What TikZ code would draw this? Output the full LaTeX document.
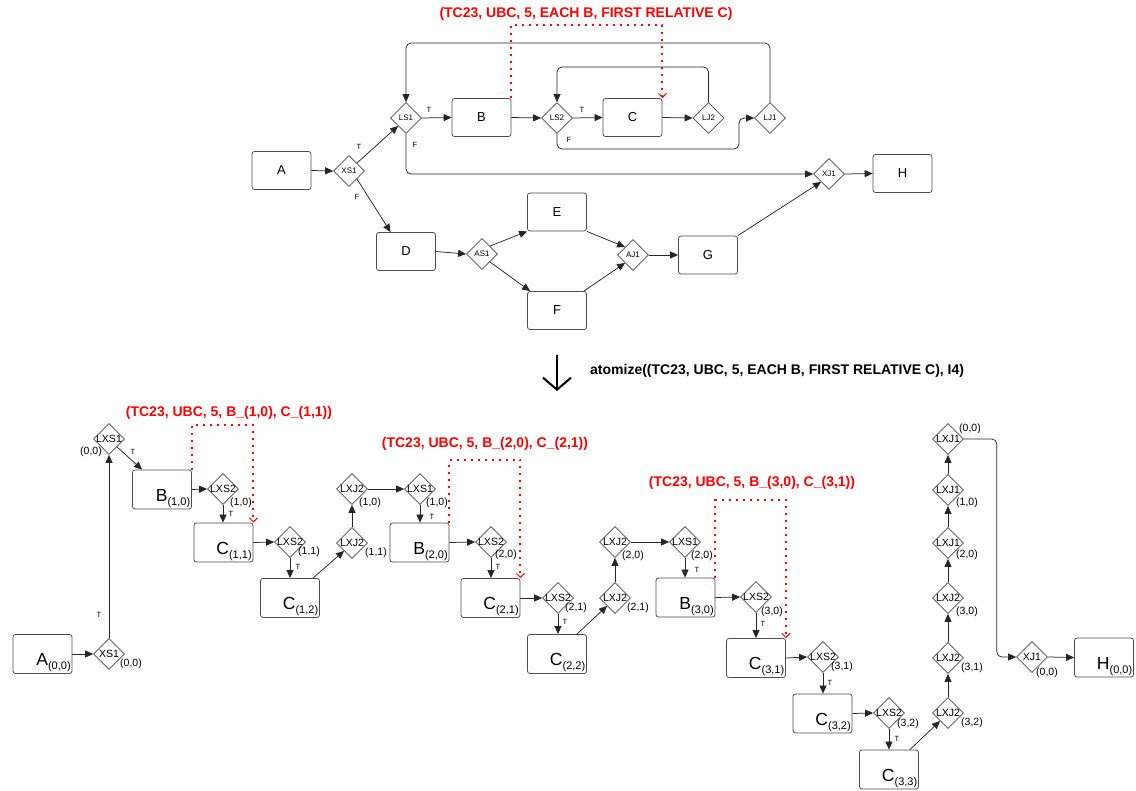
\documentclass[tikz,border=0pt]{standalone}
\usepackage{fontspec}
\setmainfont{Liberation Sans}
\usetikzlibrary{shapes.geometric,arrows.meta,calc}
\newcommand{\fsz}[1]{\fontsize{#1}{#1}\selectfont}
\newcommand{\bsub}[2]{{\fsz{17.5}#1}{\fsz{11}\raisebox{-4pt}{#2}}}
\tikzset{
  box/.style={draw=black!70, rounded corners=2.5pt, minimum width=59pt, minimum height=38pt, inner sep=0pt, line width=0.8pt},
  tbox/.style={box, font=\fsz{13}},
  bbox/.style={box, minimum height=39pt, label={[anchor=south east, inner sep=1.5pt]south east:#1}},
  dia/.style={diamond, draw=black!70, minimum width=31pt, minimum height=31pt, inner sep=0pt, line width=0.7pt},
  dtop/.style={dia, label={[font=\fsz{8}, inner sep=0pt]center:#1}},
  dbot/.style={dia, label={[font=\fsz{10.5}, inner sep=0pt]center:#1}},
  ol/.style args={#1/#2/#3}{label={[font=\fsz{10.5}, inner sep=0pt, xshift=#1pt, yshift=#2pt]center:#3}},
  conn/.style={draw=black!85, line width=0.75pt, -{Triangle[length=8pt,width=7pt]}},
  tf/.style={font=\fsz{7.5}, inner sep=0pt},
  title/.style={font=\bfseries\fsz{14}, text=red, inner sep=0pt},
  reddot/.style={draw=red, line width=2pt, dash pattern=on 2pt off 5pt, -{Straight Barb[length=4pt,width=8pt,line width=1pt]}},
  bigarrow/.style={draw=black, line width=2pt, -{Straight Barb[length=12pt,width=28pt,line width=2pt]}}
}
\begin{document}
\begin{tikzpicture}[x=1pt,y=-1pt]
\path[use as bounding box, fill=white] (0,0) rectangle (1136,791);

% ---------------- top diagram ----------------
\node[tbox] (A) at (281.5,170.5) {A};
\node[dtop=XS1] (XS1) at (349,171) {};
\node[dtop=LS1] (LS1) at (406,118) {};
\node[tbox] (B) at (481.5,117.5) {B};
\node[dtop=LS2] (LS2) at (557,118) {};
\node[tbox] (C) at (632.5,117.5) {C};
\node[dtop=LJ2] (LJ2) at (708.5,118) {};
\node[dtop=LJ1] (LJ1) at (770,118) {};
\node[dtop=XJ1] (XJ1) at (829,174) {};
\node[tbox] (H) at (902.5,173.5) {H};
\node[tbox] (D) at (406,251.5) {D};
\node[dtop=AS1] (AS1) at (482,254) {};
\node[tbox] (E) at (557,212) {E};
\node[tbox] (F) at (557,310.5) {F};
\node[dtop=AJ1] (AJ1) at (633,255) {};
\node[tbox] (G) at (708,255) {G};

\draw[conn] (A.east) -- (XS1.west);
\draw[conn] (XS1.45) -- (LS1.-135);
\draw[conn] (XS1.-45) -- ([xshift=14.5pt]D.north west);
\draw[conn] (LS1.east) -- (B.west);
\draw[conn, rounded corners=5pt] (LS1.south) |- (XJ1.west);
\draw[conn] (B.east) -- (LS2.west);
\draw[conn] (LS2.east) -- (C.west);
\draw[conn] (C.east) -- (LJ2.west);
\draw[conn, rounded corners=5pt] (LJ2.north) -- (LJ2.north |- 0,67) -- (LS2.north |- 0,67) -- (LS2.north);
\draw[conn, rounded corners=5pt] (LS2.south) -- (LS2.south |- 0,149) -- (739,149) -- (739,118) -- (LJ1.west);
\draw[conn, rounded corners=5pt] (LJ1.north) -- (LJ1.north |- 0,43) -- (LS1.north |- 0,43) -- (LS1.north);
\draw[conn] (D.east) -- (AS1.west);
\draw[conn] (AS1.45) -- (E.south west);
\draw[conn] (AS1.-45) -- ([xshift=3pt]F.north west);
\draw[conn] (E.south east) -- (AJ1.135);
\draw[conn] ([xshift=-3pt]F.north east) -- (AJ1.-135);
\draw[conn] (AJ1.east) -- (G.west);
\draw[conn] (G.north east) -- (XJ1.-135);
\draw[conn] (XJ1.east) -- (H.west);

\node[tf] at (429,110) {T};
\node[tf] at (415,145) {F};
\node[tf] at (582,110) {T};
\node[tf] at (569,140) {F};
\node[tf] at (359,147) {T};
\node[tf] at (357,197) {F};

\draw[reddot] (B.north east) -- (B.north east |- 0,25) -- (C.north east |- 0,25) -- (C.north east);
\node[title] (t0) at (586,14) {(TC23, UBC, 5, EACH B, FIRST RELATIVE C)};

% ---------------- transformation ----------------
\coordinate (arrS) at (557,355);
\coordinate (arrE) at (557,391);
\draw[bigarrow] (arrS) -- (arrE);
\node[font=\bfseries\fsz{14}, anchor=west, inner sep=0pt] (atom) at (590,371) {atomize((TC23, UBC, 5, EACH B, FIRST RELATIVE C), I4)};

% ---------------- bottom diagram ----------------
\node[bbox={\bsub{A}{(0,0)}}] (A00) at (42.5,654) {};
\node[dbot=XS1, ol={22/-10/(0,0)}] (xs-00) at (109,654) {};
\node[dbot=LXS1, ol={-18/-13/(0,0)}] (s1-00) at (109,439) {};
\node[bbox={\bsub{B}{(1,0)}}] (B10) at (162,489.5) {};
\node[dbot=LXS2, ol={18/-14/(1,0)}] (s2-10) at (223,489) {};
\node[bbox={\bsub{C}{(1,1)}}] (C11) at (223.5,542.5) {};
\node[dbot=LXS2, ol={19/-10/(1,1)}] (s2-11) at (290,542) {};
\node[bbox={\bsub{C}{(1,2)}}] (C12) at (290,598) {};
\node[dbot=LXJ2, ol={24/-10/(1,1)}] (j2-11) at (352,543) {};
\node[dbot=LXJ2, ol={18/-14/(1,0)}] (j2-10) at (352,489) {};
\node[dbot=LXS1, ol={17/-14/(1,0)}] (s1-10) at (420,489) {};
\node[bbox={\bsub{B}{(2,0)}}] (B20) at (419.5,542.5) {};
\node[dbot=LXS2, ol={15/-13/(2,0)}] (s2-20) at (491,542) {};
\node[bbox={\bsub{C}{(2,1)}}] (C21) at (490.5,598) {};
\node[dbot=LXS2, ol={18/-10/(2,1)}] (s2-21) at (558,598) {};
\node[bbox={\bsub{C}{(2,2)}}] (C22) at (557,654) {};
\node[dbot=LXJ2, ol={23/-10/(2,1)}] (j2-21) at (615,598) {};
\node[dbot=LXJ2, ol={18/-14/(2,0)}] (j2-20) at (615,542) {};
\node[dbot=LXS1, ol={17/-14/(2,0)}] (s1-20) at (685,542) {};
\node[bbox={\bsub{B}{(3,0)}}] (B30) at (685.5,597.5) {};
\node[dbot=LXS2, ol={16/-15/(3,0)}] (s2-30) at (756,597) {};
\node[bbox={\bsub{C}{(3,1)}}] (C31) at (756,658) {};
\node[dbot=LXS2, ol={19/-10/(3,1)}] (s2-31) at (823,657) {};
\node[bbox={\bsub{C}{(3,2)}}] (C32) at (822.5,713.5) {};
\node[dbot=LXS2, ol={19/-11/(3,2)}] (s2-32) at (889,713) {};
\node[bbox={\bsub{C}{(3,3)}}] (C33) at (889,769.5) {};
\node[dbot=LXJ2, ol={24/-10/(3,2)}] (j2-32) at (948,713) {};
\node[dbot=LXJ2, ol={24/-10/(3,1)}] (j2-31) at (948,658) {};
\node[dbot=LXJ2, ol={19/-14/(3,0)}] (j2-30) at (948,598) {};
\node[dbot=LXJ1, ol={19/-12/(2,0)}] (j1-20) at (948,543) {};
\node[dbot=LXJ1, ol={19/-13/(1,0)}] (j1-10) at (948,490) {};
\node[dbot=LXJ1, ol={22/10/(0,0)}] (j1-00) at (948,439) {};
\node[dbot=XJ1, ol={15/-16/(0,0)}] (xj-00) at (1032,657) {};
\node[bbox={\bsub{H}{(0,0)}}] (H00) at (1104,657.5) {};

\draw[conn] (A00.east) -- (xs-00.west);
\draw[conn] (xs-00.north) -- (s1-00.south);
\draw[conn] (s1-00.-45) -- ([xshift=10pt]B10.north west);
\draw[conn] (B10.east) -- (s2-10.west);
\draw[conn] (s2-10.south) -- (s2-10.south |- C11.north);
\draw[conn] (C11.east) -- (s2-11.west);
\draw[conn] (s2-11.south) -- (s2-11.south |- C12.north);
\draw[conn] ([xshift=-7pt]C12.north east) -- (j2-11.-135);
\draw[conn] (j2-11.north) -- (j2-10.south);
\draw[conn] (j2-10.east) -- (s1-10.west);
\draw[conn] (s1-10.south) -- (s1-10.south |- B20.north);
\draw[conn] (B20.east) -- (s2-20.west);
\draw[conn] (s2-20.south) -- (s2-20.south |- C21.north);
\draw[conn] (C21.east) -- (s2-21.west);
\draw[conn] (s2-21.south) -- (s2-21.south |- C22.north);
\draw[conn] ([xshift=-10pt]C22.north east) -- (j2-21.-135);
\draw[conn] (j2-21.north) -- (j2-20.south);
\draw[conn] (j2-20.east) -- (s1-20.west);
\draw[conn] (s1-20.south) -- (s1-20.south |- B30.north);
\draw[conn] (B30.east) -- (s2-30.west);
\draw[conn] (s2-30.south) -- (s2-30.south |- C31.north);
\draw[conn] (C31.east) -- (s2-31.west);
\draw[conn] (s2-31.south) -- (s2-31.south |- C32.north);
\draw[conn] (C32.east) -- (s2-32.west);
\draw[conn] (s2-32.south) -- (s2-32.south |- C33.north);
\draw[conn] ([xshift=-9pt]C33.north east) -- (j2-32.-135);
\draw[conn] (j2-32.north) -- (j2-31.south);
\draw[conn] (j2-31.north) -- (j2-30.south);
\draw[conn] (j2-30.north) -- (j1-20.south);
\draw[conn] (j1-20.north) -- (j1-10.south);
\draw[conn] (j1-10.north) -- (j1-00.south);
\draw[conn, rounded corners=5pt] (j1-00.east) -- ++(33,0) |- (xj-00.west);
\draw[conn] (xj-00.east) -- (H00.west);

\node[tf] at (99,615) {T};
\node[tf] at (133,452) {T};
\node[tf] at (231,514) {T};
\node[tf] at (298,567) {T};
\node[tf] at (432,517) {T};
\node[tf] at (498,567) {T};
\node[tf] at (565,622) {T};
\node[tf] at (697,570) {T};
\node[tf] at (763,624) {T};
\node[tf] at (830,683) {T};
\node[tf] at (897,739) {T};

\draw[reddot] (B10.north east) -- (B10.north east |- 0,425) -- (C11.north east |- 0,425) -- (C11.north east);
\draw[reddot] (B20.north east) -- (B20.north east |- 0,460) -- (C21.north east |- 0,460) -- (C21.north east);
\draw[reddot] (B30.north east) -- (B30.north east |- 0,500) -- (C31.north east |- 0,500) -- (C31.north east);
\node[title] (t1) at (229,413) {(TC23, UBC, 5, B\_(1,0), C\_(1,1))};
\node[title] (t2) at (485,444) {(TC23, UBC, 5, B\_(2,0), C\_(2,1))};
\node[title] (t3) at (752,483) {(TC23, UBC, 5, B\_(3,0), C\_(3,1))};
\end{tikzpicture}
\end{document}
